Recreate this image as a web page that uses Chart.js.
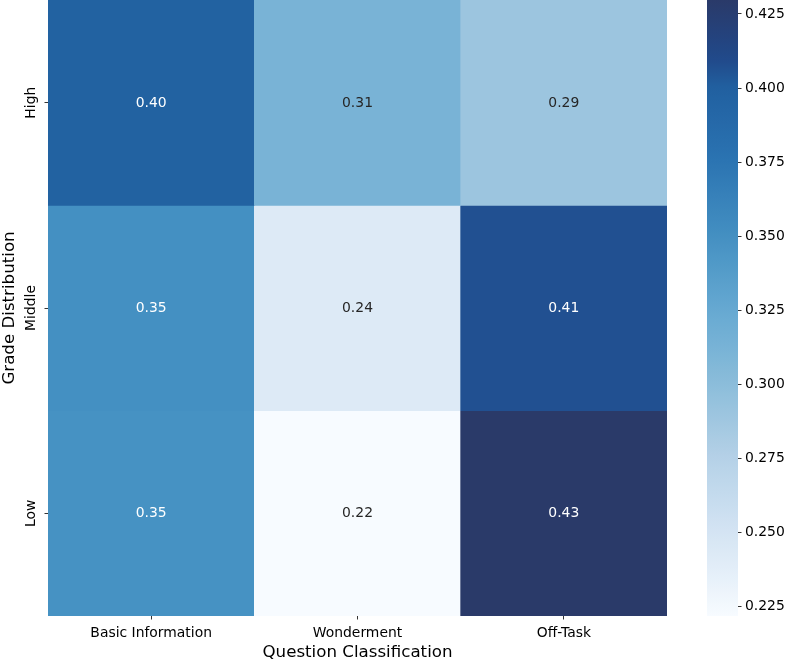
<!DOCTYPE html>
<html>
<head>
<meta charset="utf-8">
<script src="https://cdn.jsdelivr.net/npm/chart.js@4.4.0/dist/chart.umd.min.js"></script>
<style>
  html, body { margin: 0; padding: 0; background: #fff; overflow: hidden; }
  #main { position: absolute; left: 0; top: 0; }
  #cbar { position: absolute; left: 700px; top: 0; }
</style>
</head>
<body>
<canvas id="main" width="667" height="661"></canvas>
<canvas id="cbar" width="86" height="661"></canvas>
<script>
// ---- data ----
const columns = ['Basic Information', 'Wonderment', 'Off-Task'];
const rowLabels = ['High', 'Middle', 'Low'];          // top to bottom
const highValues = [0.398, 0.312, 0.290];
const middleValues = [0.350, 0.243, 0.407];
const lowValues = [0.3484, 0.2219, 0.4297];
const colorbarTicks = [0.225, 0.250, 0.275, 0.300, 0.325, 0.350, 0.375, 0.400, 0.425];
const xTitle = 'Question Classification';
const yTitle = 'Grade Distribution';

const rowValues = [highValues, middleValues, lowValues];
const allVals = rowValues.flat();
const vmin = Math.min(...allVals);
const vmax = Math.max(...allVals);

// ---- colormap (Blues-like) ----
const cmapStops = [
  [0.000, '#f7fbff'],
  [0.135, '#d4e4f3'],
  [0.256, '#b5d1e7'],
  [0.376, '#8bbdda'],
  [0.496, '#66a9d2'],
  [0.616, '#4490c2'],
  [0.737, '#2b74b2'],
  [0.857, '#2160a0'],
  [0.905, '#21498a'],
  [1.000, '#2a3a69']
];
function hexToRgb(h) {
  return [parseInt(h.slice(1,3),16), parseInt(h.slice(3,5),16), parseInt(h.slice(5,7),16)];
}
function cmapRgb(t) {
  t = Math.max(0, Math.min(1, t));
  for (let i = 1; i < cmapStops.length; i++) {
    if (t <= cmapStops[i][0]) {
      const [t0, c0] = cmapStops[i-1], [t1, c1] = cmapStops[i];
      const f = (t - t0) / (t1 - t0);
      const a = hexToRgb(c0), b = hexToRgb(c1);
      return a.map((v, k) => Math.round(v + (b[k] - v) * f));
    }
  }
  return hexToRgb(cmapStops[cmapStops.length-1][1]);
}
function colorFor(v) {
  const c = cmapRgb((v - vmin) / (vmax - vmin));
  return `rgb(${c[0]},${c[1]},${c[2]})`;
}
function textColorFor(v) {
  const c = cmapRgb((v - vmin) / (vmax - vmin)).map(x => {
    x /= 255;
    return x <= 0.03928 ? x / 12.92 : Math.pow((x + 0.055) / 1.055, 2.4);
  });
  const lum = 0.2126 * c[0] + 0.7152 * c[1] + 0.0722 * c[2];
  return lum > 0.408 ? '#262626' : '#ffffff';
}

const FONT = 'DejaVu Sans';
const TICK_FS = 13.9;
const TITLE_FS = 16.67;

// one dataset per row, bottom row first; each cell is a floating bar [r, r+1]
const nRows = rowLabels.length;
const datasets = rowLabels.map((label, i) => {
  const r = nRows - 1 - i;
  const vals = rowValues[i];
  return {
    label: label,
    data: columns.map(() => [r, r + 1]),
    values: vals,
    backgroundColor: vals.map(colorFor),
    borderWidth: 0,
    barPercentage: 1.0,
    categoryPercentage: 1.0,
    grouped: false
  };
});

const annotatePlugin = {
  id: 'annotate',
  afterDatasetsDraw(chart) {
    const ctx = chart.ctx;
    ctx.save();
    ctx.font = `${TICK_FS}px "${FONT}"`;
    ctx.textAlign = 'center';
    ctx.textBaseline = 'middle';
    chart.data.datasets.forEach((ds, di) => {
      const meta = chart.getDatasetMeta(di);
      meta.data.forEach((bar, j) => {
        const v = ds.values[j];
        ctx.fillStyle = textColorFor(v);
        ctx.fillText(v.toFixed(2), bar.x, (bar.y + bar.base) / 2 + 0.5);
      });
    });
    ctx.restore();
  }
};

new Chart(document.getElementById('main'), {
  type: 'bar',
  data: { labels: columns, datasets: datasets },
  options: {
    responsive: false,
    animation: false,
    devicePixelRatio: 1,
    layout: { padding: 0 },
    plugins: { legend: { display: false }, tooltip: { enabled: false } },
    scales: {
      x: {
        type: 'category',
        offset: true,
        border: { display: false },
        grid: { display: true, drawOnChartArea: false, drawTicks: true, tickLength: 3.5, offset: false, color: '#000', lineWidth: 0.8 },
        ticks: { color: '#000', font: { family: FONT, size: TICK_FS }, padding: 6, maxRotation: 0, minRotation: 0, autoSkip: false },
        title: { display: true, text: xTitle, color: '#000', font: { family: FONT, size: TITLE_FS }, padding: { top: 0, bottom: -2 } },
        afterFit: s => { s.height = 45; }
      },
      y: {
        type: 'linear',
        min: 0,
        max: nRows,
        border: { display: false },
        grid: { display: true, drawOnChartArea: false, drawTicks: true, tickLength: 3.5, color: '#000', lineWidth: 0.8 },
        afterBuildTicks: s => { s.ticks = rowLabels.map((_, i) => ({ value: nRows - 1 - i + 0.5 })); },
        ticks: {
          color: '#000',
          font: { family: FONT, size: TICK_FS },
          minRotation: 90, maxRotation: 90,
          crossAlign: 'center',
          padding: -10,
          callback: v => rowLabels[nRows - 1 - Math.floor(v)]
        },
        title: { display: true, text: yTitle, color: '#000', font: { family: FONT, size: TITLE_FS }, padding: 0 },
        afterFit: s => { s.width = 48; }
      }
    }
  },
  plugins: [annotatePlugin]
});

// ---- colorbar ----
function gradientFill(context) {
  const chart = context.chart;
  const area = chart.chartArea;
  if (!area) return colorFor(vmax);
  const g = chart.ctx.createLinearGradient(0, area.bottom, 0, area.top);
  for (let i = 0; i <= 50; i++) {
    const t = i / 50;
    const c = cmapRgb(t);
    g.addColorStop(t, `rgb(${c[0]},${c[1]},${c[2]})`);
  }
  return g;
}

new Chart(document.getElementById('cbar'), {
  type: 'bar',
  data: {
    labels: ['cbar'],
    datasets: [{ data: [[vmin, vmax]], backgroundColor: gradientFill, borderWidth: 0, barPercentage: 1.0, categoryPercentage: 1.0 }]
  },
  options: {
    responsive: false,
    animation: false,
    devicePixelRatio: 1,
    layout: { padding: { left: 7, right: 0, top: 0, bottom: 45 } },
    plugins: { legend: { display: false }, tooltip: { enabled: false } },
    scales: {
      x: { display: false },
      y: {
        type: 'linear',
        position: 'right',
        min: vmin,
        max: vmax,
        border: { display: false },
        grid: { display: true, drawOnChartArea: false, drawTicks: true, tickLength: 3.5, color: '#000', lineWidth: 0.8 },
        afterBuildTicks: s => { s.ticks = colorbarTicks.map(v => ({ value: v })); },
        ticks: { color: '#000', font: { family: FONT, size: TICK_FS }, padding: 3.5, callback: v => v.toFixed(3) },
        afterFit: s => { s.width = 48; s.paddingTop = 0; s.paddingBottom = 0; }
      }
    }
  }
});
</script>
</body>
</html>
